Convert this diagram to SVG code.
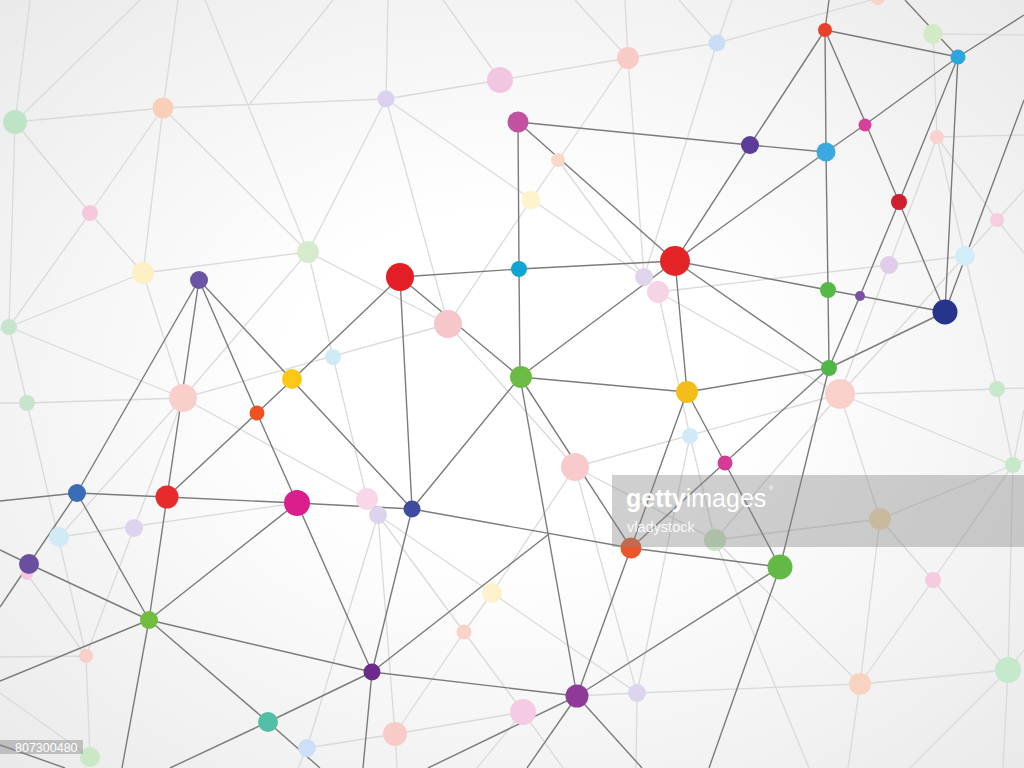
<svg xmlns="http://www.w3.org/2000/svg" width="1024" height="768" viewBox="0 0 1024 768">
<defs>
<radialGradient id="bg" cx="50%" cy="50%" r="75%">
<stop offset="0.3" stop-color="#ffffff"/>
<stop offset="1" stop-color="#e8e8e8"/>
</radialGradient>
<style>
.l{stroke:#dadada;stroke-width:1.3;fill:none}
.d{stroke:#7b7b7b;stroke-width:1.4;fill:none}
.wm{font-family:"Liberation Sans",Arial,sans-serif;fill:#ffffff}
</style>
</defs>
<rect width="1024" height="768" fill="url(#bg)"/>
<g id="light-connectors" class="l">
<path d="M15,122L30,0M15,122L140,0M15,122L163,108M15,122L9,327M15,122L90,213"/>
<path d="M163,108L178,0M163,108L90,213M163,108L143,273M163,108L386,99M163,108L308,252M205,0L308,252M333,0L248,106"/>
<path d="M386,99L388,0M386,99L500,80M386,99L308,252M386,99L448,324M386,99L644,277M500,80L443,0M500,80L628,58"/>
<path d="M628,58L575,0M628,58L625,0M628,58L717,43M628,58L531,200M558,160L644,277M628,58L644,277"/>
<path d="M717,43L679,0M717,43L732,0M717,43L644,277M717,43L878,-2"/>
<path d="M90,213L143,273M90,213L9,327M143,273L308,252M143,273L9,327M143,273L183,398M308,252L367,499M308,252L183,398M308,252L448,324M9,327L183,398M9,327L27,403M9,327L0,330"/>
<path d="M183,398L448,324M531,200L448,324"/>
<path d="M658,292L889,265M889,265L965,256M658,292L690,436M658,292L840,394"/>
<path d="M933,34L1024,35M933,34L937,137M937,137L1024,135M937,137L889,265M937,137L965,256M937,137L997,220M997,220L965,256M997,220L1024,190M997,220L1024,253M889,265L840,394M965,256L840,394M965,256L997,389"/>
<path d="M840,394L997,389M840,394L1013,465M840,394L880,519M575,467L840,394M715,540L840,394M997,389L1024,388M997,389L1013,465M1013,465L1024,410M1013,465L1024,460M1013,465L880,519M1013,465L933,580M1013,465L1008,670"/>
<path d="M880,519L715,540M880,519L933,580M880,519L860,684M933,580L860,684M933,580L1008,670M1008,670L860,684M1008,670L910,768M1008,670L1003,768M1008,670L1024,650M860,684L848,768M715,540L860,684M715,540L809,768M690,436L715,540M690,436L637,693M575,467L492,593M575,467L637,693M575,467L715,540M448,324L575,467"/>
<path d="M27,403L0,403M27,403L183,398M27,403L86,656M183,398L59,537M183,398L134,528M183,398L367,499M59,537L297,503M134,528L86,656M27,574L86,656M86,656L0,657M86,656L90,757M0,693L90,757"/>
<path d="M378,515L395,734M378,515L307,748M378,515L464,632M378,515L492,593M492,593L464,632M464,632L523,712M464,632L395,734M492,593L637,693M395,734L523,712M577,696L637,693M637,693L860,684M395,734L307,748M395,734L397,768M523,712L563,768M523,712L477,768M637,693L636,768M307,748L298,768"/>
</g>
<g id="dark-connectors" class="d">
<path d="M825,30L829,0M825,30L958,57M825,30L750,145M825,30L826,152M825,30L866,124M866,124L899,202M958,57L866,124M866,124L826,152M958,57L1024,15M958,57L905,0M958,57L945,312M958,57L899,202M899,202L860,296M860,296L829,368M899,202L945,312M945,312L1024,100"/>
<path d="M518,122L750,145M750,145L826,152M518,122L519,269M518,122L675,261M750,145L675,261M826,152L675,261M826,152L828,290M828,290L829,368M675,261L519,269M675,261L828,290M828,290L860,296M860,296L945,312M675,261L829,368M675,261L520,377M675,261L687,392M519,269L520,377M519,269L400,277M829,368L945,312M687,392L829,368M520,377L687,392"/>
<path d="M400,277L292,380M400,277L520,377M400,277L412,509M199,280L292,380M199,280L257,413M199,280L167,497M199,280L77,493M292,380L257,413M292,380L412,509M257,413L167,497M257,413L297,503"/>
<path d="M520,377L412,509M520,377L631,548M520,377L577,696M687,392L631,548M687,392L725,463M829,368L631,548M725,463L780,567M829,368L780,567M412,509L631,548M372,672L549,534"/>
<path d="M297,503L412,509M167,497L297,503M77,493L167,497M77,493L0,501M297,503L149,620M297,503L372,672M412,509L372,672M77,493L149,620M77,493L29,564M167,497L149,620M29,564L149,620M29,564L0,550M29,564L0,607"/>
<path d="M149,620L0,681M149,620L372,672M149,620L268,722M149,620L122,768M372,672L577,696M372,672L268,722M372,672L363,768M268,722L320,768M268,722L170,768M0,745L65,768"/>
<path d="M577,696L631,548M577,696L780,567M577,696L527,768M577,696L642,768M577,696L428,768M780,567L709,768M780,567L631,548"/>
</g>
<g id="light-nodes">
<g id="l1"><circle cx="15" cy="122" r="12" fill="#bfe3c6"/></g>
<g id="l2"><circle cx="163" cy="108" r="10.5" fill="#f9cfba"/></g>
<g id="l3"><circle cx="386" cy="99" r="8.5" fill="#d9d1ee"/></g>
<g id="l4"><circle cx="500" cy="80" r="13" fill="#f3c6e0"/></g>
<g id="l5"><circle cx="628" cy="58" r="11" fill="#f9cbc7"/></g>
<g id="l6"><circle cx="717" cy="43" r="8.5" fill="#c9ddf5"/></g>
<g id="l7"><circle cx="933" cy="34" r="10" fill="#d2ebc6"/></g>
<g id="l8"><circle cx="90" cy="213" r="8" fill="#f6c8de"/></g>
<g id="l9"><circle cx="143" cy="273" r="11" fill="#fdf0c6"/></g>
<g id="l10"><circle cx="308" cy="252" r="11" fill="#d6ebcc"/></g>
<g id="l11"><circle cx="9" cy="327" r="8" fill="#c6e5cc"/></g>
<g id="l12"><circle cx="27" cy="403" r="8" fill="#c6e5cc"/></g>
<g id="l13"><circle cx="183" cy="398" r="14" fill="#f9cfcb"/></g>
<g id="l14"><circle cx="333" cy="357" r="8" fill="#d0eaf6"/></g>
<g id="l15"><circle cx="448" cy="324" r="14" fill="#f6c6ca"/></g>
<g id="l16"><circle cx="558" cy="160" r="7" fill="#fad8c8"/></g>
<g id="l17"><circle cx="531" cy="200" r="9.5" fill="#fdf3cd"/></g>
<g id="l18"><circle cx="644" cy="277" r="9" fill="#e0d4ee"/></g>
<g id="l19"><circle cx="658" cy="292" r="11" fill="#f7d3e6"/></g>
<g id="l20"><circle cx="937" cy="137" r="7" fill="#f9d3cb"/></g>
<g id="l21"><circle cx="997" cy="220" r="7" fill="#f7cde1"/></g>
<g id="l22"><circle cx="889" cy="265" r="9" fill="#dfcdea"/></g>
<g id="l23"><circle cx="965" cy="256" r="10" fill="#d2ecf8"/></g>
<g id="l24"><circle cx="840" cy="394" r="15" fill="#f9d1ca"/></g>
<g id="l25"><circle cx="997" cy="389" r="8" fill="#c8e8cc"/></g>
<g id="l26"><circle cx="1013" cy="465" r="8" fill="#c8e8cc"/></g>
<g id="l27"><circle cx="690" cy="436" r="8" fill="#d0ebf7"/></g>
<g id="l28"><circle cx="575" cy="467" r="14" fill="#f8cacb"/></g>
<g id="l29"><circle cx="367" cy="499" r="11" fill="#f7d7e8"/></g>
<g id="l30"><circle cx="378" cy="515" r="9" fill="#ddd3ed"/></g>
<g id="l31"><circle cx="134" cy="528" r="9" fill="#ddd3ed"/></g>
<g id="l32"><circle cx="59" cy="537" r="10" fill="#d0ebf7"/></g>
<g id="l33"><circle cx="27" cy="574" r="6" fill="#f5c8e0"/></g>
<g id="l34"><circle cx="86" cy="656" r="7" fill="#f9cfcb"/></g>
<g id="l35"><circle cx="492" cy="593" r="10" fill="#fdf2cc"/></g>
<g id="l36"><circle cx="464" cy="632" r="7.5" fill="#fad3c6"/></g>
<g id="l37"><circle cx="715" cy="540" r="11" fill="#c8e4c0"/></g>
<g id="l38"><circle cx="880" cy="519" r="11" fill="#f2dcae"/></g>
<g id="l39"><circle cx="933" cy="580" r="8" fill="#f6cbe2"/></g>
<g id="l40"><circle cx="1008" cy="670" r="13" fill="#c6e8cc"/></g>
<g id="l41"><circle cx="860" cy="684" r="11" fill="#f9d3c2"/></g>
<g id="l42"><circle cx="637" cy="693" r="9" fill="#ddd5ee"/></g>
<g id="l43"><circle cx="523" cy="712" r="13" fill="#f5cbe3"/></g>
<g id="l44"><circle cx="395" cy="734" r="12" fill="#f9cbc8"/></g>
<g id="l45"><circle cx="307" cy="748" r="9" fill="#cbdff6"/></g>
<g id="l46"><circle cx="90" cy="757" r="10" fill="#c9e8c3"/></g>
<g id="l47"><circle cx="878" cy="-2" r="7" fill="#f9d3cb"/></g>
</g>
<g id="dark-nodes">
<g id="a1"><circle cx="825" cy="30" r="7" fill="#e9402a"/></g>
<g id="a2"><circle cx="958" cy="57" r="7.5" fill="#2aa7df"/></g>
<g id="a3"><circle cx="518" cy="122" r="10.5" fill="#c351a1"/></g>
<g id="a4"><circle cx="750" cy="145" r="9" fill="#5b3c97"/></g>
<g id="a5"><circle cx="826" cy="152" r="9.5" fill="#3aa9e1"/></g>
<g id="a6"><circle cx="865" cy="125" r="6.5" fill="#d6409b"/></g>
<g id="a7"><circle cx="899" cy="202" r="8" fill="#cd1f30"/></g>
<g id="a8"><circle cx="675" cy="261" r="15" fill="#e52428"/></g>
<g id="a9"><circle cx="519" cy="269" r="8" fill="#12a5d4"/></g>
<g id="a10"><circle cx="400" cy="277" r="14" fill="#e41e26"/></g>
<g id="a11"><circle cx="199" cy="280" r="9" fill="#6a54a3"/></g>
<g id="a12"><circle cx="828" cy="290" r="8" fill="#55b847"/></g>
<g id="a13"><circle cx="860" cy="296" r="5" fill="#7b4fa5"/></g>
<g id="a14"><circle cx="945" cy="312" r="12.5" fill="#27348b"/></g>
<g id="a15"><circle cx="292" cy="379" r="10" fill="#fbc816"/></g>
<g id="a16"><circle cx="521" cy="377" r="11" fill="#6bbb45"/></g>
<g id="a17"><circle cx="687" cy="392" r="11" fill="#f3bd1a"/></g>
<g id="a18"><circle cx="829" cy="368" r="8" fill="#50b747"/></g>
<g id="a19"><circle cx="257" cy="413" r="7.5" fill="#ee5224"/></g>
<g id="a20"><circle cx="725" cy="463" r="7.5" fill="#d53a97"/></g>
<g id="a21"><circle cx="77" cy="493" r="9" fill="#3a6db5"/></g>
<g id="a22"><circle cx="167" cy="497" r="11.5" fill="#e72a2b"/></g>
<g id="a23"><circle cx="297" cy="503" r="13" fill="#db1d8e"/></g>
<g id="a24"><circle cx="412" cy="509" r="8.5" fill="#3e4b9f"/></g>
<g id="a25"><circle cx="631" cy="548" r="10.5" fill="#e9562a"/></g>
<g id="a26"><circle cx="780" cy="567" r="12.5" fill="#62b946"/></g>
<g id="a27"><circle cx="29" cy="564" r="10" fill="#6a4fa0"/></g>
<g id="a28"><circle cx="149" cy="620" r="9" fill="#70bd40"/></g>
<g id="a29"><circle cx="372" cy="672" r="8.5" fill="#6b2a8c"/></g>
<g id="a30"><circle cx="577" cy="696" r="11.5" fill="#8e3a96"/></g>
<g id="a31"><circle cx="268" cy="722" r="10" fill="#52bea6"/></g>
</g>
<g id="watermark">
<rect x="612" y="475" width="412" height="72" fill="#888888" opacity="0.4"/>
<text class="wm" x="626" y="507" font-size="25"><tspan font-weight="bold">getty</tspan><tspan>images</tspan></text>
<text class="wm" x="769" y="490" font-size="6">®</text>
<text class="wm" x="627" y="532" font-size="14.5" opacity="0.9">vladystock</text>
<rect x="0" y="740" width="83" height="14" fill="#888888" opacity="0.45"/>
<text class="wm" x="15" y="752" font-size="12.5">807300480</text>
</g>
</svg>
